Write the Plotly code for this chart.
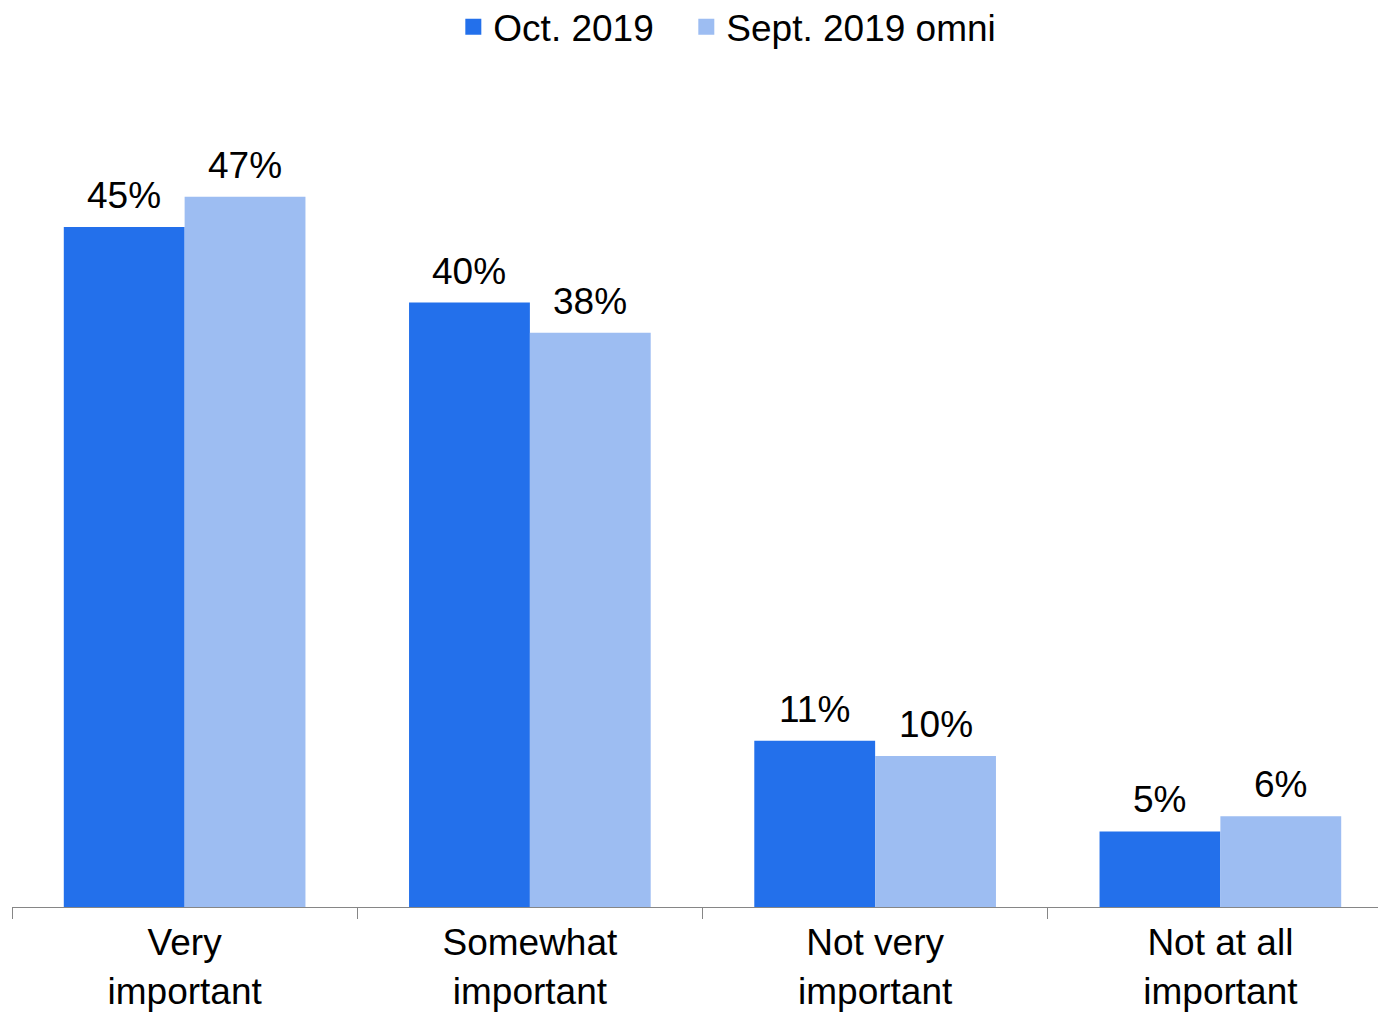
import plotly.graph_objects as go

categories = ["Very<br>important", "Somewhat<br>important", "Not very<br>important", "Not at all<br>important"]
oct_2019 = [45, 40, 11, 5]
sept_2019 = [47, 38, 10, 6]

DARK = "#2370EB"
LIGHT = "#9DBDF2"
FONT = "Liberation Sans, Arial, sans-serif"
FS = 37

series = [("Oct. 2019", oct_2019, DARK, -60.5, "legend"),
          ("Sept. 2019 omni", sept_2019, LIGHT, 60.5, "legend2")]

fig = go.Figure()
for name, vals, col, shift, leg in series:
    fig.add_trace(go.Bar(
        x=categories, y=vals, name=name, showlegend=False,
        marker=dict(color=col, line=dict(width=0)),
        hoverinfo="x+y",
    ))
    # legend-only entry with a bigger square swatch
    fig.add_trace(go.Scatter(
        x=[None], y=[None], mode="markers", name=name, legend=leg,
        marker=dict(symbol="square", size=19, color=col),
    ))
    # value labels above bars
    for c, v in zip(categories, vals):
        fig.add_annotation(x=c, y=v, text=f"{v}%", showarrow=False,
                           xshift=shift, yshift=9, yanchor="bottom",
                           font=dict(size=FS, color="black"))

leg_common = dict(orientation="h", xref="container", yref="container",
                  xanchor="left", y=0.981, yanchor="middle",
                  font=dict(size=FS), itemsizing="trace", itemwidth=30,
                  bgcolor="rgba(0,0,0,0)")

# page body adds an 8px offset, so margins are trimmed by that much;
# the plot area runs a little past the right edge, as in the original
fig.update_layout(
    width=1386, height=1013,
    margin=dict(l=4, r=1, t=92, b=114, autoexpand=False),
    paper_bgcolor="white", plot_bgcolor="white",
    font=dict(family=FONT, size=FS, color="black"),
    barmode="group", bargap=0.30, bargroupgap=0,
    showlegend=True,
    legend=dict(x=0.3213, **leg_common),
    legend2=dict(x=0.4894, **leg_common),
)
fig.update_xaxes(
    showline=True, linecolor="#868686", linewidth=1,
    ticks="outside", tickson="boundaries", ticklen=11, tickcolor="#868686",
    tickfont=dict(size=FS), showgrid=False, automargin=False,
    ticklabelstandoff=3,
)
fig.update_yaxes(range=[0, 53.4], visible=False, showgrid=False, automargin=False)

fig.write_html("out.html")
